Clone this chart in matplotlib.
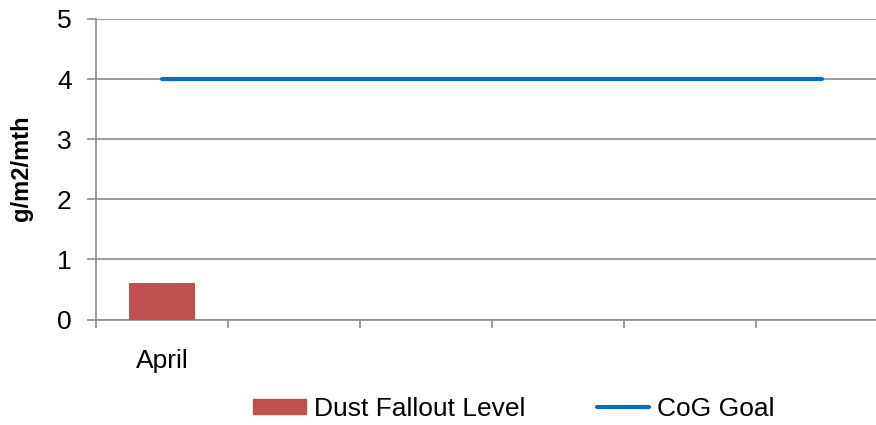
import numpy as np
import matplotlib.pyplot as plt
from matplotlib.patches import Patch
from matplotlib.lines import Line2D

months = ["April", "", "", "", "", ""]
dust_fallout = [0.6, np.nan, np.nan, np.nan, np.nan, np.nan]
cog_goal = [4, 4, 4, 4, 4, 4]
y_ticks = [0, 1, 2, 3, 4, 5]

plt.rcParams['font.family'] = ['Liberation Sans', 'DejaVu Sans']

fig = plt.figure(figsize=(8.76, 4.25), dpi=100)
# plot area runs past the right edge like the original crop
ax = fig.add_axes([96/876, 105.5/425, 792/876, 300.5/425])

x = np.arange(len(months))
ax.bar(x, dust_fallout, width=0.5, color="#C0504D", zorder=3)
ax.plot(x, cog_goal, color="#0070C0", lw=3, solid_capstyle="round", zorder=4)

ax.set_xlim(-0.5, len(months) - 0.5)
ax.set_ylim(0, 5)
ax.set_yticks(y_ticks)
ax.yaxis.grid(True, color="#8C8C8C", lw=1.2)
ax.set_axisbelow(True)

bounds = np.arange(len(months) + 1) - 0.5
ax.set_xticks(bounds, labels=[""] * len(bounds))
ax.set_xticks(x, labels=months, minor=True)
ax.tick_params(axis="x", which="major", length=6, width=1.2, color="#8C8C8C")
ax.tick_params(axis="x", which="minor", length=0, pad=21, labelsize=19)
ax.tick_params(axis="y", length=6.5, width=1.2, color="#8C8C8C", pad=11, labelsize=19)

for s in ["top", "right"]:
    ax.spines[s].set_visible(False)
for s in ["left", "bottom"]:
    ax.spines[s].set_color("#8C8C8C")
    ax.spines[s].set_linewidth(1.2)

fig.text(21.5/876, 1 - 168/425, "g/m2/mth", rotation=90, ha="center", va="center",
         fontsize=17, fontweight="bold")

handles = [Patch(color="#C0504D"),
           Line2D([], [], color="#0070C0", lw=3, solid_capstyle="round")]
fig.legend(handles, ["Dust Fallout Level", "CoG Goal"], loc="center",
           bbox_to_anchor=(514/876, 1 - 409/425), ncol=2, frameon=False,
           fontsize=19, handlelength=2.0, handleheight=0.53, handletextpad=0.3,
           columnspacing=2.7, borderaxespad=0, borderpad=0)

fig.savefig("out.png", dpi=100)
